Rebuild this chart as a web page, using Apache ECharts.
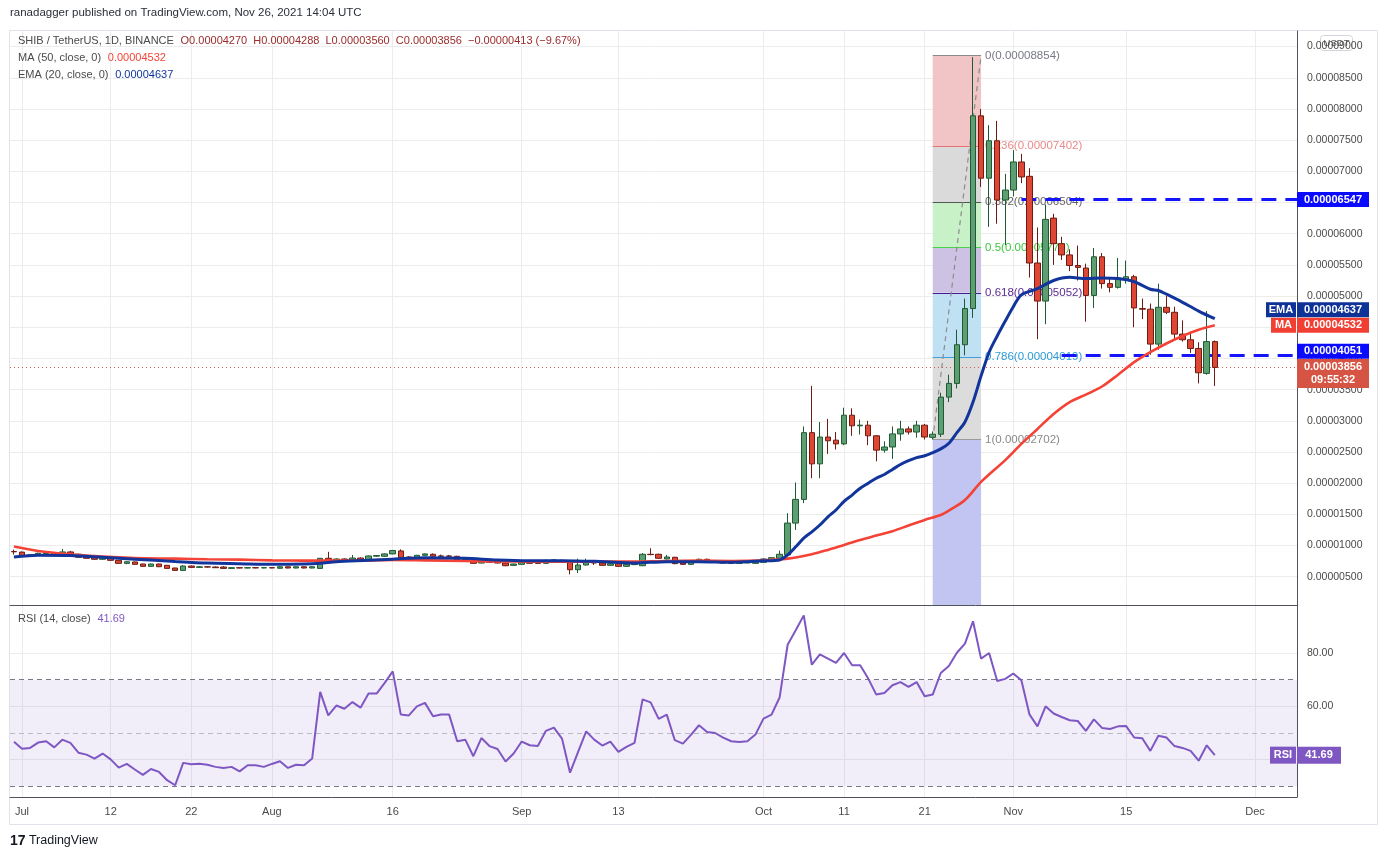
<!DOCTYPE html>
<html><head><meta charset="utf-8">
<script src="https://cdn.jsdelivr.net/npm/echarts/dist/echarts.min.js"></script>
<style>html,body{margin:0;padding:0;background:#fff}#c{width:1383px;height:860px}</style>
</head><body><div id="c"></div>
<script>
// prices in micro-USDT (1e-6); index 0 = 2021-06-30, index 149 = 2021-11-26
const SCALE = 1e-6;
const opens = [9.05,8.95,8.42,8.45,8.72,8.78,8.44,8.98,8.60,8.23, 8.12,7.80,8.06,7.63,7.15,7.37,7.04,6.67,7.04,6.83,
 6.40,6.02,6.72,6.50,6.60,6.56,6.56,6.34,6.45,6.40, 6.45,6.42,6.45,6.36,6.60,6.40,6.60,6.40,6.34,7.96,
 7.50,7.85,7.63,8.00,7.80,8.30,8.28,8.66,9.14,8.17, 8.00,8.44,8.60,8.33,8.33,8.28,7.70,7.70,7.20,7.63,
 7.42,7.20,6.83,6.99,7.42,7.20,7.15,7.63,7.63,7.31, 6.13,6.88,7.53,7.20,6.83,7.10,6.67,6.94,6.77,8.60,
 8.60,7.85,8.12,7.20,6.99,7.31,7.80,7.50,7.53,7.37, 7.15,7.22,7.15,7.31,7.74,7.96,8.50,13.6,17.4,28.1,
 23.1,27.4,26.9,26.3,30.9,29.2,29.3,27.6,25.3,25.8, 27.9,28.7,28.2,29.3,27.35,27.85,33.8,36.0,42.2,48.0,
 78.9,68.9,74.9,65.4,67.0,71.5,69.2,55.3,49.2,62.5, 58.4,56.6,54.9,54.5,50.1,56.3,52.0,51.4,52.7,53.1,
 48.0,47.9,42.3,48.2,47.4,43.9,43.0,41.6,37.6,42.70];
const closes = [9.00,8.40,8.50,8.76,8.87,8.44,8.98,8.66,8.12,7.96, 7.80,8.06,7.63,7.15,7.40,6.99,6.67,7.04,6.61,6.34,
 6.02,6.72,6.50,6.60,6.55,6.45,6.34,6.45,6.40,6.45, 6.42,6.45,6.42,6.60,6.40,6.60,6.40,6.60,7.96,7.53,
 7.85,7.58,8.00,7.69,8.33,8.40,8.66,9.20,8.06,8.00, 8.44,8.66,8.28,8.30,8.28,7.58,7.80,7.15,7.69,7.31,
 7.20,6.77,7.04,7.31,7.15,7.15,7.63,7.70,7.31,6.13, 6.88,7.53,7.20,6.83,7.10,6.67,6.99,7.00,8.60,8.55,
 7.96,8.17,7.10,6.99,7.31,7.80,7.47,7.58,7.20,7.15, 7.25,7.30,7.42,7.85,8.06,8.60,13.6,17.4,28.1,23.1,
 27.4,26.8,26.3,30.9,29.2,29.3,27.6,25.3,25.8,27.9, 28.7,28.2,29.3,27.4,27.85,33.8,36.0,42.2,48.0,78.9,
 68.9,74.9,65.4,67.0,71.5,69.1,55.3,49.2,62.3,58.4, 56.6,54.9,54.6,50.1,56.3,52.0,51.4,52.9,53.1,48.1,
 47.9,42.3,48.2,47.4,43.9,43.0,41.6,37.7,42.7,38.56];
const highs = [9.35,9.05,8.6,8.85,9.1,8.85,9.46,9.15,8.7,8.3, 8.2,8.15,8.12,7.7,7.5,7.45,7.1,7.1,7.1,6.9,
 6.45,6.85,6.8,6.7,6.7,6.65,6.7,6.5,6.5,6.5, 6.5,6.55,6.5,6.7,6.65,6.65,6.65,6.7,8.0,9.0,
 7.95,7.95,8.5,8.1,8.4,8.5,8.75,9.3,9.4,8.3, 8.5,8.75,8.75,8.55,8.5,8.35,7.9,7.8,7.75,7.7,
 7.5,7.25,7.1,7.4,7.5,7.3,7.7,7.75,7.7,7.35, 7.9,7.9,7.6,7.25,7.15,7.15,7.05,7.1,8.8,9.57,
 8.7,8.5,8.2,7.3,7.4,7.9,7.9,7.65,7.6,7.45, 7.3,7.35,7.5,7.95,8.1,9.2,15.2,20.1,29.1,35.6,
 29.8,30.3,28.2,32.1,32.0,30.2,30.0,27.7,26.7,29.1, 30.0,29.1,30.0,29.5,28.3,34.5,37.4,44.6,49.6,88.3,
 80.0,77.4,78.1,69.6,73.4,72.8,70.5,61.0,64.7,63.2, 59.5,57.5,58.1,55.2,57.7,56.9,52.8,56.1,55.7,53.4,
 49.6,48.8,52.0,50.0,48.3,46.1,44.3,42.6,47.6,42.88];
const lows = [8.55,8.3,8.3,8.35,8.6,8.4,8.4,8.6,8.05,7.9, 7.75,7.7,7.55,7.1,7.0,6.95,6.6,6.6,6.55,6.3,
 5.95,5.95,6.45,6.45,6.45,6.4,6.3,6.3,6.35,6.35, 6.35,6.35,6.35,6.3,6.35,6.35,6.35,6.35,6.3,7.5,
 7.4,7.5,7.55,7.6,7.7,8.2,8.2,8.6,8.0,7.95, 7.95,8.4,8.2,8.2,8.2,7.55,7.6,7.1,7.15,7.25,
 7.15,6.7,6.75,6.95,7.1,7.1,7.1,7.55,7.25,5.38, 5.6,6.8,6.9,6.75,6.75,6.6,6.6,6.9,6.7,8.45,
 7.9,7.8,7.0,6.95,6.9,7.25,7.2,7.45,7.15,7.1, 7.1,7.15,7.1,7.25,7.6,7.9,8.3,12.5,16.8,20.8,
 20.8,24.7,25.4,26.1,27.6,27.8,26.1,23.5,24.9,23.9, 26.8,27.8,27.3,27.0,27.02,27.4,33.0,35.2,40.5,46.5,
 67.5,61.1,61.6,58.2,66.0,68.1,52.96,43.1,45.5,55.0, 55.8,54.0,52.5,45.9,48.1,51.2,50.6,51.2,52.0,45.0,
 46.3,40.6,41.4,47.1,42.9,42.7,40.9,36.0,37.4,35.60];
const rsiVals = [46.7,44.1,44.4,46.4,46.9,44.6,47.5,46.3,42.6,41.9, 40.4,42.3,40.1,37.0,38.4,36.3,34.3,36.5,35.4,32.3,
 30.4,38.8,38.3,38.5,38.1,37.3,36.9,37.3,35.6,37.9, 37.9,37.3,38.4,39.4,36.9,38.1,37.9,40.4,65.4,56.6,
 60.3,59.1,61.6,59.5,64.8,64.8,68.8,73.1,56.9,56.6, 60.0,61.3,56.3,56.9,56.9,46.9,47.5,41.3,48.1,45.1,
 44.0,39.3,42.3,46.8,45.4,45.1,50.8,52.0,47.9,35.1, 42.9,50.6,47.5,45.3,46.8,42.9,44.8,46.3,62.6,61.5,
 55.3,56.9,47.3,46.0,49.3,52.9,50.4,50.0,48.3,46.9, 46.6,46.9,49.4,55.4,56.9,63.3,83.1,88.5,94.1,75.6,
 79.5,77.9,76.3,80.0,75.4,75.4,70.4,64.4,65.0,67.9, 69.1,67.3,69.1,63.8,64.4,72.5,75.1,80.1,83.5,91.9,
 77.9,80.0,69.5,70.3,72.3,69.8,57.0,52.5,60.0,57.3, 56.0,54.8,54.5,50.8,55.1,51.9,51.5,52.5,52.6,48.3,
 48.0,43.3,49.0,48.3,45.1,44.4,43.3,39.6,45.4,41.69];
// EMA(20) and MA(50) read at vertices (day index, value)
const emaIdx = [0,3,7,11,15,20,24,28,32,36, 38,40,44,47,51,56,60,64,68,72, 77,81,85,89,93,95,96,97,98,99,
 100,101,102,103,104,105,106,107,108,109, 110,111,112,113,114,115,116,117,118,119,
 120,121,122,123,124,125,127,129,131,133, 135,137,139,141,142,143,145,147,149];
const emaVal = [8.17,8.44,8.40,8.12,7.82,7.45,7.20,7.10,7.00,7.04, 7.15,7.42,7.63,7.82,8.06,7.96,7.69,7.58,7.58,7.47,
 7.20,7.42,7.42,7.31,7.55,7.70,8.5,9.8,11.2,12.2, 13.3,14.6,15.7,17.1,18.1,19.2,20.0,20.8,21.4,22.2,
 23.0,23.6,24.1,24.4,24.9,25.5,26.4,28.1,29.8,33.0, 37.2,41.0,43.6,46.0,48.3,50.2,51.2,52.5,53.0,52.8,
 52.9,52.8,52.3,51.1,50.9,50.3,49.0,47.6,46.37];
const maIdx = [0,3,7,11,15,20,24,28,32,36, 40,44,47,51,56,60,64,68,72,76, 81,85,89,93,96,99,101,103,105,107,
 109,111,113,115,116,118,120,123,125,127, 129,131,133,135,137,139,141,143,145,147, 149];
const maVal = [9.84,9.14,8.60,8.23,8.00,7.90,7.80,7.74,7.63,7.58, 7.60,7.63,7.70,7.63,7.53,7.47,7.42,7.42,7.42,7.42,
 7.53,7.58,7.53,7.63,7.90,8.60,9.30,10.1,10.9,11.6, 12.3,13.2,14.1,14.9,15.6,17.3,20.2,23.7,26.3,28.7,
 31.1,33.0,34.2,35.5,37.4,39.4,41.0,42.4,43.6,44.6, 45.32];
const tickIdx = [1,12,22,32,47,63,75,93,103,113,124,138,154];
const tickLabels = ['Jul','12','22','Aug','16','Sep','13','Oct','11','21','Nov','15','Dec'];
const priceTicks = [5,10,15,20,25,30,35,40,45,50,55,60,65,70,75,80,85,90];
const rsiTicks = [40,60,80];
const rsiDashed = [70,50,30];
const fibRatios = ['0','0.236','0.382','0.5','0.618','0.786','1'];
const fibPrices = [88.54,74.02,65.04,57.78,50.52,40.19,27.02];
const fibFrom = 114, fibTo = 120;
const levelHi = 65.47, levelHiFrom = 125;
const levelLo = 40.51, levelLoFrom = 130;
const lastClose = 38.56, lastEma = 46.37, lastMa = 45.32, lastRsi = 41.69;

const FONT = 'Liberation Sans, Arial, sans-serif';
const X_MIN = -0.49, X_MAX = 159.2, Y_MIN = 0.47, Y_MAX = 92.5;
const fmtPrice = v => (v * SCALE).toFixed(8);
const labelOf = {}; tickIdx.forEach((t, k) => labelOf[t] = tickLabels[k]);

const candleData = opens.map((o, i) => [i, o, closes[i], lows[i], highs[i]]);
const emaData = emaIdx.map((x, k) => [x, emaVal[k]]);
const maData = maIdx.map((x, k) => [x, maVal[k]]);
const rsiData = rsiVals.map((v, i) => [i, v]);

const fibFill = ['#f1c4c6','#dadada','#c8f1c8','#cdc2e4','#c0e1f4','#dcdcdc'];
const fibLine = ['#8a8a8a','#e57373','#555555','#4cd04c','#4a1a8c','#3ea0d8','#9a9a9a'];
const fibText = ['#787b86','#e88a8a','#666666','#3cc83c','#5b2c91','#2e9ad6','#8a8a8a'];
const fibAreas = fibFill.map((c, k) => [
  {coord: [fibFrom, fibPrices[k]], itemStyle: {color: c}},
  {coord: [fibTo, fibPrices[k + 1]]}
]);
fibAreas.push([{coord: [fibFrom, fibPrices[6]], itemStyle: {color: '#c2c4f1'}}, {coord: [fibTo, Y_MIN]}]);
const fibLines = fibPrices.map((p, k) => [
  {coord: [fibFrom, p], lineStyle: {color: fibLine[k], width: 1, type: 'solid'},
   label: {show: true, position: 'end', distance: 4, formatter: fibRatios[k] + '(' + fmtPrice(p) + ')',
           color: fibText[k], fontSize: 11.5, fontFamily: FONT}},
  {coord: [fibTo, p]}
]);
fibLines.push([{coord: [fibFrom, fibPrices[6]], lineStyle: {color: '#8c8c8c', width: 1.2, type: [5, 4]}, label: {show: false}},
               {coord: [fibTo, fibPrices[0]]}]);

function badge(y, text, w, h, dx, dy, color) {
  return {
    coord: [X_MAX, y], symbol: 'rect', symbolSize: [w, h], symbolOffset: [dx, dy],
    itemStyle: {color: color},
    label: {show: true, position: 'inside', formatter: text, color: '#fff', fontSize: 11,
            fontWeight: 'bold', fontFamily: FONT, lineHeight: 13}
  };
}

const axisCol = '#50535e', gridCol = '#ececec';
const option = {
  animation: false,
  backgroundColor: '#ffffff',
  textStyle: {fontFamily: FONT},
  grid: [
    {left: 10, top: 31, width: 1287, height: 574},
    {left: 10, top: 605, width: 1287, height: 192}
  ],
  xAxis: [
    {type: 'value', gridIndex: 0, min: X_MIN, max: X_MAX,
     axisLine: {show: true, onZero: false, lineStyle: {color: axisCol}},
     axisTick: {show: false, customValues: tickIdx},
     axisLabel: {show: false, customValues: tickIdx},
     splitLine: {show: true, lineStyle: {color: gridCol}}},
    {type: 'value', gridIndex: 1, min: X_MIN, max: X_MAX,
     axisLine: {show: true, onZero: false, lineStyle: {color: axisCol}},
     axisTick: {show: false, customValues: tickIdx},
     axisLabel: {show: true, customValues: tickIdx, formatter: v => labelOf[Math.round(v)] || '',
                 color: '#4a4a4a', fontSize: 11, margin: 9},
     splitLine: {show: true, lineStyle: {color: gridCol}}}
  ],
  yAxis: [
    {type: 'value', gridIndex: 0, position: 'right', min: Y_MIN, max: Y_MAX,
     axisLine: {show: true, onZero: false, lineStyle: {color: axisCol}},
     axisTick: {show: false, customValues: priceTicks},
     axisLabel: {customValues: priceTicks, formatter: fmtPrice, color: '#4a4a4a', fontSize: 10.5, margin: 10},
     splitLine: {show: true, lineStyle: {color: gridCol}}},
    {type: 'value', gridIndex: 1, position: 'right', min: 26, max: 98,
     axisLine: {show: true, onZero: false, lineStyle: {color: axisCol}},
     axisTick: {show: false, customValues: rsiTicks},
     axisLabel: {customValues: rsiTicks, formatter: v => v.toFixed(2), color: '#4a4a4a', fontSize: 10.5, margin: 10},
     splitLine: {show: true, lineStyle: {color: gridCol}}}
  ],
  series: [
    {name: 'fib', type: 'line', xAxisIndex: 0, yAxisIndex: 0, z: 1, symbol: 'none',
     data: [[fibFrom, fibPrices[6]]], lineStyle: {opacity: 0}, silent: true,
     markArea: {silent: true, z: 1, data: fibAreas},
     markLine: {silent: true, z: 1, symbol: ['none', 'none'], data: fibLines}},
    {name: 'SHIB', type: 'candlestick', xAxisIndex: 0, yAxisIndex: 0, z: 3,
     data: candleData, barWidth: 6,
     itemStyle: {color: '#5d9f72', color0: '#dd4733', borderColor: '#1f5a32', borderColor0: '#6e1c13', borderWidth: 1},
     markLine: {silent: true, z: 3, symbol: ['none', 'none'], label: {show: false},
       data: [
         [{coord: [levelHiFrom, levelHi], lineStyle: {color: '#1414ff', width: 3, type: [15, 9]}}, {coord: [X_MAX, levelHi]}],
         [{coord: [levelLoFrom, levelLo], lineStyle: {color: '#1414ff', width: 3, type: [15, 9]}}, {coord: [X_MAX, levelLo]}],
         {yAxis: lastClose, lineStyle: {color: '#d9574a', width: 1, type: [1, 3]}}
       ]}},
    {name: 'MA', type: 'line', xAxisIndex: 0, yAxisIndex: 0, z: 5, symbol: 'none', smooth: 0.3,
     data: maData, lineStyle: {color: '#f44336', width: 2.6}},
    {name: 'EMA', type: 'line', xAxisIndex: 0, yAxisIndex: 0, z: 6, symbol: 'none', smooth: 0.3,
     data: emaData, lineStyle: {color: '#12359c', width: 3}},
    {name: 'tags', type: 'line', xAxisIndex: 0, yAxisIndex: 0, z: 10, symbol: 'none',
     data: [[X_MAX, lastClose]], lineStyle: {opacity: 0}, silent: true,
     markPoint: {silent: true, z: 10, data: [
       badge(levelHi, fmtPrice(levelHi), 72, 15, 36, 0, '#0a0aff'),
       badge(levelLo, fmtPrice(levelLo), 72, 15, 36, -4, '#0a0aff'),
       badge(lastClose, fmtPrice(lastClose) + '\n09:55:32', 72, 29, 36, 6, '#d65444'),
       badge(lastEma, fmtPrice(lastEma), 72, 15, 36, -9, '#0e3296'),
       badge(lastEma, 'EMA', 30, 15, -16, -9, '#0e3296'),
       badge(lastMa, fmtPrice(lastMa), 72, 15, 36, 0, '#f23f33'),
       badge(lastMa, 'MA', 25, 15, -13.5, 0, '#f23f33')
     ]}},
    {name: 'RSI', type: 'line', xAxisIndex: 1, yAxisIndex: 1, z: 4, symbol: 'none',
     data: rsiData, lineStyle: {color: '#7e57c2', width: 2},
     markArea: {silent: true, z: 1, data: [[{yAxis: rsiDashed[2], itemStyle: {color: 'rgba(126,87,194,0.1)'}}, {yAxis: rsiDashed[0]}]]},
     markLine: {silent: true, z: 2, symbol: ['none', 'none'], label: {show: false},
       data: [
         {yAxis: rsiDashed[0], lineStyle: {color: '#787b86', width: 1, type: [5, 4]}},
         {yAxis: rsiDashed[1], lineStyle: {color: '#b8bac2', width: 1, type: [5, 4]}},
         {yAxis: rsiDashed[2], lineStyle: {color: '#787b86', width: 1, type: [5, 4]}}
       ]},
     markPoint: {silent: true, z: 10, data: [
       badge(lastRsi, lastRsi.toFixed(2), 44, 17, 22, 0, '#7e57c2'),
       badge(lastRsi, 'RSI', 26, 17, -14, 0, '#7e57c2')
     ]}}
  ],
  graphic: [
    {type: 'rect', z: 0, silent: true, shape: {x: 9.5, y: 30.5, width: 1368, height: 794},
     style: {fill: null, stroke: '#e0e3eb', lineWidth: 1}},
    {type: 'text', left: 10, top: 7, z: 20, silent: true,
     style: {text: 'ranadagger published on TradingView.com, Nov 26, 2021 14:04 UTC', fill: '#2a2e39', font: '11.5px ' + FONT}},
    {type: 'text', left: 18, top: 35, z: 20, silent: true,
     style: {text: '{a|SHIB / TetherUS, 1D, BINANCE}  {b|O0.00004270  H0.00004288  L0.00003560  C0.00003856  \u22120.00000413 (\u22129.67%)}',
             rich: {a: {fill: '#4a4a4a', font: '11px ' + FONT}, b: {fill: '#9a2b2b', font: '11px ' + FONT}}}},
    {type: 'text', left: 18, top: 52, z: 20, silent: true,
     style: {text: '{a|MA (50, close, 0)}  {b|0.00004532}',
             rich: {a: {fill: '#4a4a4a', font: '11px ' + FONT}, b: {fill: '#f44336', font: '11px ' + FONT}}}},
    {type: 'text', left: 18, top: 69, z: 20, silent: true,
     style: {text: '{a|EMA (20, close, 0)}  {b|0.00004637}',
             rich: {a: {fill: '#4a4a4a', font: '11px ' + FONT}, b: {fill: '#12359c', font: '11px ' + FONT}}}},
    {type: 'text', left: 18, top: 613, z: 20, silent: true,
     style: {text: '{a|RSI (14, close)}  {b|41.69}',
             rich: {a: {fill: '#4a4a4a', font: '11px ' + FONT}, b: {fill: '#7e57c2', font: '11px ' + FONT}}}},
    {type: 'group', left: 1320, top: 35, z: 20, silent: true, children: [
      {type: 'rect', shape: {x: 0, y: 0, width: 32, height: 15, r: 3}, style: {fill: '#fff', stroke: '#d1d4dc'}},
      {type: 'text', x: 16, y: 7.5, style: {text: 'USDT', fill: '#555', font: '9.5px ' + FONT, align: 'center', verticalAlign: 'middle'}}
    ]},
    {type: 'text', left: 10, top: 834, z: 20, silent: true,
     style: {text: '{l|17} {t|TradingView}', rich: {l: {fill: '#131722', font: 'bold 14px ' + FONT}, t: {fill: '#131722', font: '12.5px ' + FONT}}}}
  ]
};
const chart = echarts.init(document.getElementById('c'));
chart.setOption(option);
</script></body></html>
